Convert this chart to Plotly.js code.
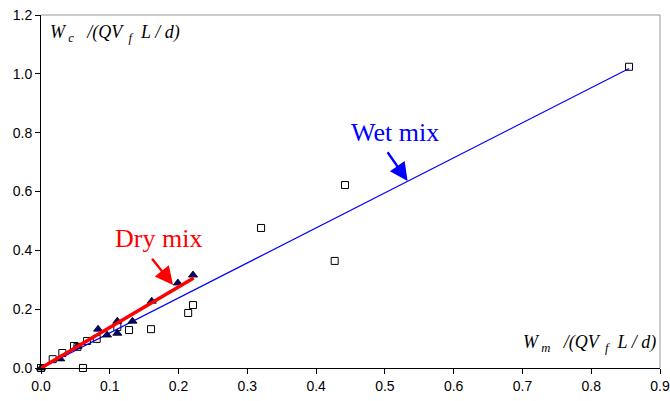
<!DOCTYPE html>
<html>
<head>
<meta charset="utf-8">
<script src="https://cdn.plot.ly/plotly-3.0.1.min.js"></script>
<style>html,body{margin:0;padding:0;background:#fff;}#chart{width:670px;height:401px;}</style>
</head>
<body>
<div id="chart"></div>
<script>
// Wet mix measured points (squares)
var wetX = [0, 0.017, 0.031, 0.048, 0.053, 0.061, 0.067, 0.081, 0.111, 0.128, 0.160, 0.214, 0.221, 0.320, 0.427, 0.442, 0.855];
var wetY = [0, 0.030, 0.051, 0.075, 0.072, 0.000, 0.092, 0.099, 0.139, 0.129, 0.132, 0.187, 0.214, 0.476, 0.364, 0.622, 1.024];
// Dry mix measured points (triangles)
var dryX = [0, 0.028, 0.053, 0.083, 0.096, 0.111, 0.111, 0.133, 0.161, 0.199, 0.221];
var dryY = [0, 0.031, 0.074, 0.132, 0.112, 0.159, 0.118, 0.159, 0.227, 0.289, 0.316];
// Fitted lines
var wetLineX = [0, 0.855];
var wetLineY = [0, 1.018];
var dryLineX = [0, 0.222];
var dryLineY = [0, 0.306];
// Axis ticks
var xTicks = [0, 0.1, 0.2, 0.3, 0.4, 0.5, 0.6, 0.7, 0.8, 0.9];
var yTicks = [0, 0.2, 0.4, 0.6, 0.8, 1.0, 1.2];
// Annotation targets
var wetArrowTip = [0.533, 0.636];
var dryArrowTip = [0.192, 0.282];

var traces = [
  {x: wetX, y: wetY, mode: 'markers', type: 'scatter', cliponaxis: false,
   marker: {symbol: 'square-open', size: 7, color: '#000', line: {width: 1, color: '#000'}}},
  {x: wetLineX, y: wetLineY, mode: 'lines', type: 'scatter', cliponaxis: false,
   line: {color: '#0000ff', width: 1.2}},
  {x: dryX, y: dryY, mode: 'markers', type: 'scatter', cliponaxis: false,
   marker: {symbol: 'triangle-up', size: 8, color: '#000080', line: {width: 0.8, color: '#000'}}},
  {x: dryLineX, y: dryLineY, mode: 'lines', type: 'scatter', cliponaxis: false,
   line: {color: '#ff0000', width: 3.5}}
];

var serif = 'Liberation Serif';
var tickFont = {family: 'Liberation Sans', size: 14, color: '#000'};
var layout = {
  width: 670, height: 401,
  margin: {l: 41, r: 10, t: 15, b: 33},
  paper_bgcolor: '#fff', plot_bgcolor: '#fff',
  showlegend: false,
  font: {family: 'Liberation Sans'},
  xaxis: {range: [0, 0.9], tickvals: xTicks, tickformat: '.1f', ticks: 'outside', ticklen: 5,
          tickcolor: '#000', showline: true, linecolor: '#000', linewidth: 1,
          showgrid: false, zeroline: false, tickfont: tickFont},
  yaxis: {range: [0, 1.2], tickvals: yTicks, tickformat: '.1f', ticks: 'outside', ticklen: 5,
          tickcolor: '#000', showline: true, linecolor: '#000', linewidth: 1,
          showgrid: false, zeroline: false, tickfont: tickFont},
  shapes: [
    {type: 'line', xref: 'paper', yref: 'paper', x0: 0, x1: 1, y0: 1, y1: 1, line: {color: '#999', width: 1}},
    {type: 'line', xref: 'paper', yref: 'paper', x0: 1, x1: 1, y0: 0, y1: 1, line: {color: '#999', width: 1}}
  ],
  annotations: [
    {xref: 'paper', yref: 'paper', x: 0.011, y: 0.987, xanchor: 'left', yanchor: 'top', showarrow: false,
     text: '<i>W<sub> c</sub>   /(QV<sub>  f</sub>  L / d)</i>',
     font: {family: serif, size: 18, color: '#000'}},
    {xref: 'paper', yref: 'paper', x: 0.997, y: 0.03, xanchor: 'right', yanchor: 'bottom', showarrow: false,
     text: '<i>W<sub> m</sub>   /(QV<sub>  f</sub>  L / d)</i>',
     font: {family: serif, size: 18, color: '#000'}},
    {x: wetArrowTip[0], y: wetArrowTip[1], ax: -23, ay: -33, text: ' ', showarrow: true,
     arrowhead: 2, arrowsize: 1.5, arrowwidth: 2.4, arrowcolor: '#0000ff', standoff: 0},
    {x: wetArrowTip[0], y: wetArrowTip[1], text: 'Wet mix', showarrow: false,
     xshift: -13, yshift: 48,
     font: {family: serif, size: 26, color: '#0000ff'}},
    {x: dryArrowTip[0], y: dryArrowTip[1], ax: -24, ay: -30, text: ' ', showarrow: true,
     arrowhead: 2, arrowsize: 1.5, arrowwidth: 2.4, arrowcolor: '#ff0000', standoff: 0},
    {x: dryArrowTip[0], y: dryArrowTip[1], text: 'Dry mix', showarrow: false,
     xshift: -15, yshift: 47,
     font: {family: serif, size: 26, color: '#ff0000'}}
  ]
};

Plotly.newPlot('chart', traces, layout, {staticPlot: true, displayModeBar: false});
</script>
</body>
</html>
